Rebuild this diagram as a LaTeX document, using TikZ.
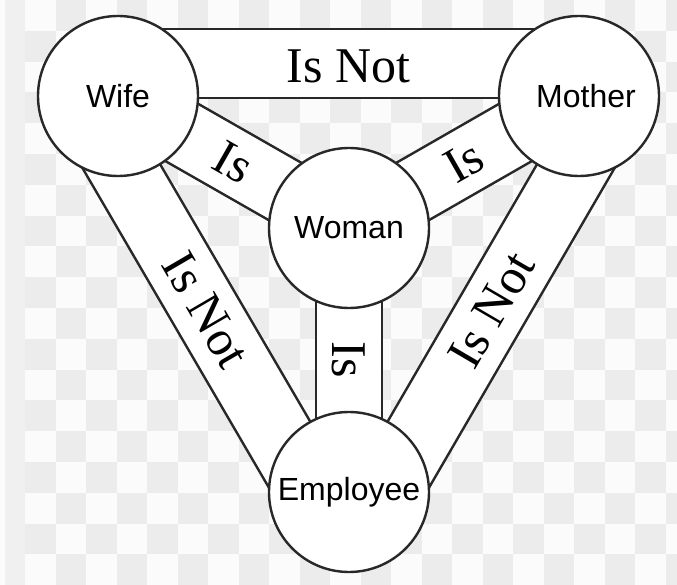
\documentclass[tikz,border=0pt]{standalone}
\usepackage{fontspec}
\setmainfont{Liberation Serif}
\setsansfont{Liberation Sans}
\usetikzlibrary{calc}
\definecolor{boardgray}{RGB}{236,236,236}
\definecolor{boardwhite}{RGB}{251,251,251}
\definecolor{inkgray}{RGB}{40,40,40}
\pgfdeclarelayer{board}
\pgfdeclarelayer{bands}
\pgfsetlayers{board,bands,main}

\begin{document}
\begin{tikzpicture}[
  x=1pt, y=-1pt,
  role/.style={circle, draw=inkgray, line width=2.4pt, fill=white, minimum size=160pt,
               inner sep=0pt, font=\sffamily\fontsize{32}{36}\selectfont},
  band/.style={draw=inkgray, line width=2.4pt, fill=white},
  rel/.style={inner sep=0pt, text=black, font=\fontsize{50}{56}\selectfont}
]
\useasboundingbox (0,0) rectangle (677,585);
\node[role] (wife) at (118,96) {Wife};
\node[role] (mother) at (579,96) {\hspace*{14pt}Mother};
\node[role] (woman) at (349,228) {Woman};
\node[role] (employee) at (349,492) {Employee};

% checkered backdrop
\begin{pgfonlayer}{board}
\fill[boardwhite] (0,0) rectangle (677,585);
\fill[boardgray!80] (5,0) rectangle (25,585);
\begin{scope}
\clip (25,0) rectangle (677,585);
\foreach \i in {0,...,21}
  \foreach \j in {0,...,18}
    {\ifodd\numexpr\i+\j\relax
       \fill[boardgray] ({25+30.5*\i},{30.8*\j}) rectangle ++(30.5,30.8);
     \fi}
\end{scope}
\end{pgfonlayer}

% bands between the circles
\begin{pgfonlayer}{bands}
\draw[band] ($(wife)!2pt!-90:(mother)$) -- ($(wife)!67pt!90:(mother)$)
  -- ($(mother)!67pt!-90:(wife)$) -- ($(mother)!2pt!90:(wife)$) -- cycle;
\draw[band] ($(mother)!2pt!-90:(employee)$) -- ($(mother)!67pt!90:(employee)$)
  -- ($(employee)!67pt!-90:(mother)$) -- ($(employee)!2pt!90:(mother)$) -- cycle;
\draw[band] ($(employee)!2pt!-90:(wife)$) -- ($(employee)!67pt!90:(wife)$)
  -- ($(wife)!67pt!-90:(employee)$) -- ($(wife)!2pt!90:(employee)$) -- cycle;
\draw[band] ($(wife)!33pt!90:(woman)$) -- ($(woman)!33pt!-90:(wife)$)
  -- ($(woman)!33pt!90:(wife)$) -- ($(wife)!33pt!-90:(woman)$) -- cycle;
\draw[band] ($(woman)!33pt!90:(mother)$) -- ($(mother)!33pt!-90:(woman)$)
  -- ($(mother)!33pt!90:(woman)$) -- ($(woman)!33pt!-90:(mother)$) -- cycle;
\draw[band] ($(woman)!33pt!90:(employee)$) -- ($(employee)!33pt!-90:(woman)$)
  -- ($(employee)!33pt!90:(woman)$) -- ($(woman)!33pt!-90:(employee)$) -- cycle;
\end{pgfonlayer}

% labels on the bands
\node[rel] (wifemother) at ($(wife)!0.5!(mother)!30pt!90:(mother)$) {Is Not};
\node[rel, rotate=-59.7] (wifeemployee) at ($(employee)!0.5!(wife)!32pt!90:(wife)$) {Is Not};
\node[rel, rotate=59.7] (motheremployee) at ($(mother)!0.5!(employee)!32pt!90:(employee)$) {Is Not};
\node[rel, rotate=-29.7] (wifewoman) at ($(wife)!0.5!(woman)$) {Is};
\node[rel, rotate=29.7] (womanmother) at ($(woman)!0.5!(mother)$) {Is};
\node[rel, rotate=-90] (womanemployee) at ($(woman)!0.5!(employee)$) {Is};
\end{tikzpicture}
\end{document}
